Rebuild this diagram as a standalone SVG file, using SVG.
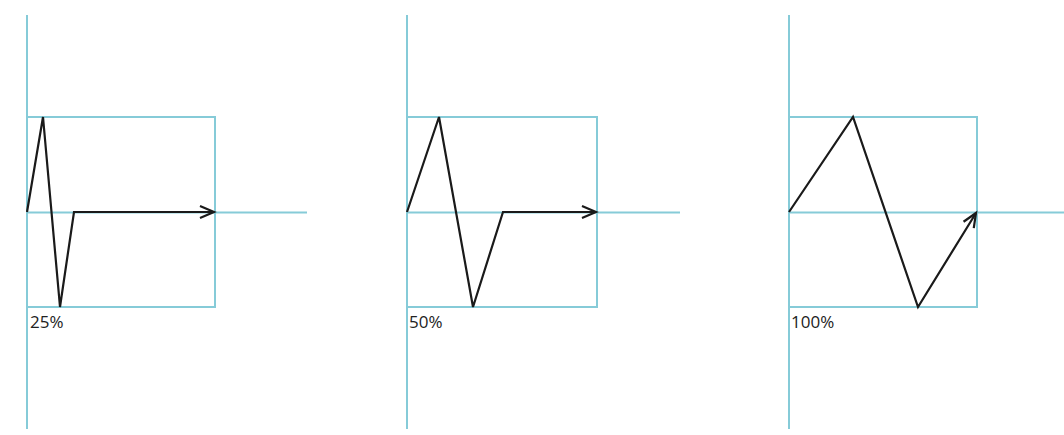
<svg xmlns="http://www.w3.org/2000/svg" width="1064" height="435" viewBox="0 0 1064 435">
<style>
.ax{stroke:#86cbd8;stroke-width:2;fill:none}
.wave{stroke:#1a1a1a;stroke-width:2.2;fill:none;stroke-linejoin:miter}
.lbl{font-family:"Open Sans","Liberation Sans",sans-serif;font-size:17px;fill:#222}
</style>
<defs>
<marker id="arr" markerUnits="userSpaceOnUse" markerWidth="20" markerHeight="16" viewBox="-16 -8 20 16" refX="0" refY="0" orient="auto">
<path d="M-14,-6 L0,0 L-14,6" fill="none" stroke="#1a1a1a" stroke-width="2.2"/>
</marker>
</defs>
<rect width="1064" height="435" fill="#ffffff"/>
<g id="panel-25">
<line class="ax" x1="27" y1="15" x2="27" y2="429"/>
<line class="ax" x1="27" y1="212.5" x2="307" y2="212.5"/>
<rect class="ax" x="27" y="117" width="188" height="190"/>
<text class="lbl" x="30" y="328">25%</text>
</g>
<g id="panel-50">
<line class="ax" x1="407" y1="15" x2="407" y2="429"/>
<line class="ax" x1="407" y1="212.5" x2="680" y2="212.5"/>
<rect class="ax" x="407" y="117" width="190" height="190"/>
<text class="lbl" x="409" y="328">50%</text>
</g>
<g id="panel-100">
<line class="ax" x1="789" y1="15" x2="789" y2="429"/>
<line class="ax" x1="789" y1="212.5" x2="1064" y2="212.5"/>
<rect class="ax" x="789" y="117" width="188" height="190"/>
<text class="lbl" x="791" y="328">100%</text>
</g>
<g id="connectors">
<polyline class="wave" points="27,212 43,117 60,307 74,212 214,212" marker-end="url(#arr)"/>
<polyline class="wave" points="407,212 439,117 473,307 503,212 596,212" marker-end="url(#arr)"/>
<polyline class="wave" points="789,212 853,117 918,307 976,213" marker-end="url(#arr)"/>
</g>
</svg>
